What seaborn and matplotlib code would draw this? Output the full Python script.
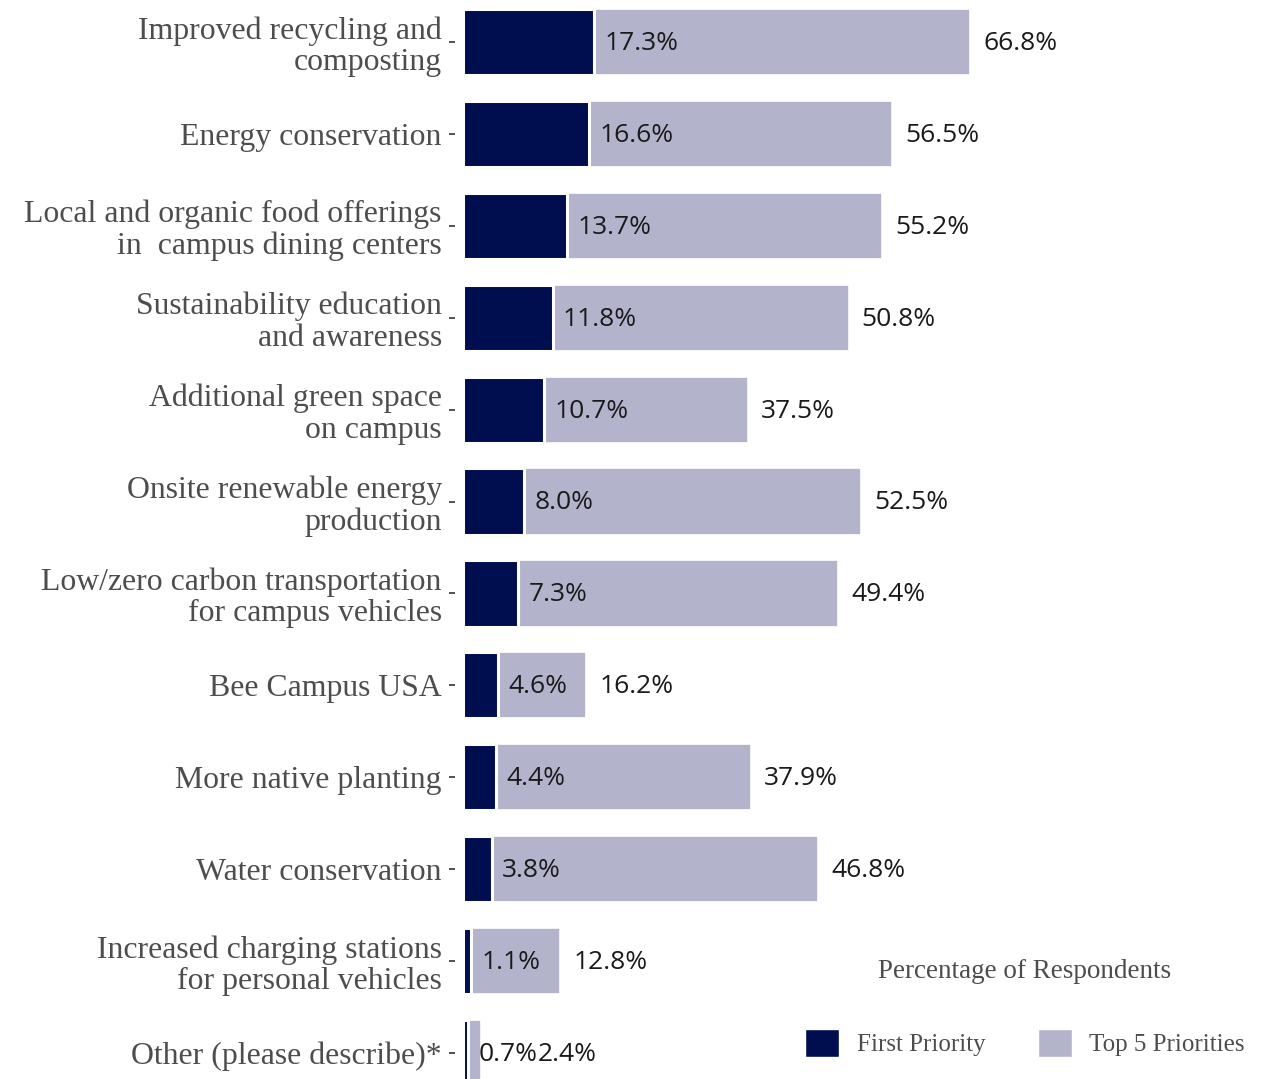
import matplotlib
matplotlib.use('Agg')
import matplotlib.pyplot as plt
import matplotlib.patches as mpatches
import seaborn as sns
import pandas as pd

categories = [
    "Improved recycling and\ncomposting",
    "Energy conservation",
    "Local and organic food offerings\nin  campus dining centers",
    "Sustainability education\nand awareness",
    "Additional green space\non campus",
    "Onsite renewable energy\nproduction",
    "Low/zero carbon transportation\nfor campus vehicles",
    "Bee Campus USA",
    "More native planting",
    "Water conservation",
    "Increased charging stations\nfor personal vehicles",
    "Other (please describe)*",
]
first_priority = [17.3, 16.6, 13.7, 11.8, 10.7, 8.0, 7.3, 4.6, 4.4, 3.8, 1.1, 0.7]
top5_priorities = [66.8, 56.5, 55.2, 50.8, 37.5, 52.5, 49.4, 16.2, 37.9, 46.8, 12.8, 2.4]

dark = "#000e50"
light = "#b3b4cb"

df = pd.DataFrame({"category": categories, "first": first_priority, "top5": top5_priorities})

sns.set_style("white")
fig = plt.figure(figsize=(12.68, 10.79), dpi=100)
left_px = 455
ax = fig.add_axes([left_px / 1268, 0, 1 - left_px / 1268, 1])

sns.barplot(data=df, y="category", x="top5", color=light, orient="h",
            width=0.72, edgecolor="white", linewidth=1.2, ax=ax, saturation=1)
sns.barplot(data=df, y="category", x="first", color=dark, orient="h",
            width=0.72, edgecolor="white", linewidth=2.2, ax=ax, saturation=1)

px = 7.59  # pixels per percent
x0 = -(463 - left_px) / px
ax.set_xlim(x0, x0 + (1268 - left_px) / px)
ax.set_ylim(11 + 26 / 91.9, -42 / 91.9)

fig.canvas.draw()
renderer = fig.canvas.get_renderer()
inv = ax.transData.inverted()
lab_kw = dict(ha="left", va="center", fontsize=19, family="Open Sans", color="#1a1a1a")
for i, (f, t) in enumerate(zip(first_priority, top5_priorities)):
    a = ax.annotate(f"{f:.1f}%", xy=(f, i), xytext=(7.5, -1), textcoords="offset points", **lab_kw)
    bb = a.get_window_extent(renderer)
    end_x = inv.transform((bb.x1, 0))[0]
    tx, off = t, 9.5
    if t + 13 / px < end_x:
        tx, off = end_x, 0
    ax.annotate(f"{t:.1f}%", xy=(tx, i), xytext=(off, -1), textcoords="offset points", **lab_kw)

ax.set_xlabel("")
ax.set_ylabel("")
ax.set_xticks([])
for s in ax.spines.values():
    s.set_visible(False)
ax.tick_params(axis="y", length=4, width=1.2, color="#333333", pad=5.5, left=True)
for lab in ax.get_yticklabels():
    lab.set_family("Liberation Serif")
    lab.set_fontsize(22.9)
    lab.set_color("#4d4d4d")
    lab.set_linespacing(1.1)

handles = [mpatches.Patch(facecolor=dark, edgecolor="white", label="First Priority"),
           mpatches.Patch(facecolor=light, edgecolor="white", label="Top 5 Priorities")]
leg = fig.legend(handles=handles, loc="center", bbox_to_anchor=(1025 / 1268, 1 - 1008 / 1079),
                 ncol=2, frameon=False, title="Percentage of Respondents",
                 prop={"family": "Liberation Serif", "size": 18},
                 handlelength=1.35, handleheight=1.35, columnspacing=2.1, handletextpad=0.7)
leg.get_title().set_family("Liberation Serif")
leg.get_title().set_fontsize(19.5)
leg.get_title().set_color("#4d4d4d")
leg._legend_box.sep = 32
for txt in leg.get_texts():
    txt.set_color("#4d4d4d")

fig.savefig("out.png", dpi=100, facecolor="white")
plt.close(fig)
